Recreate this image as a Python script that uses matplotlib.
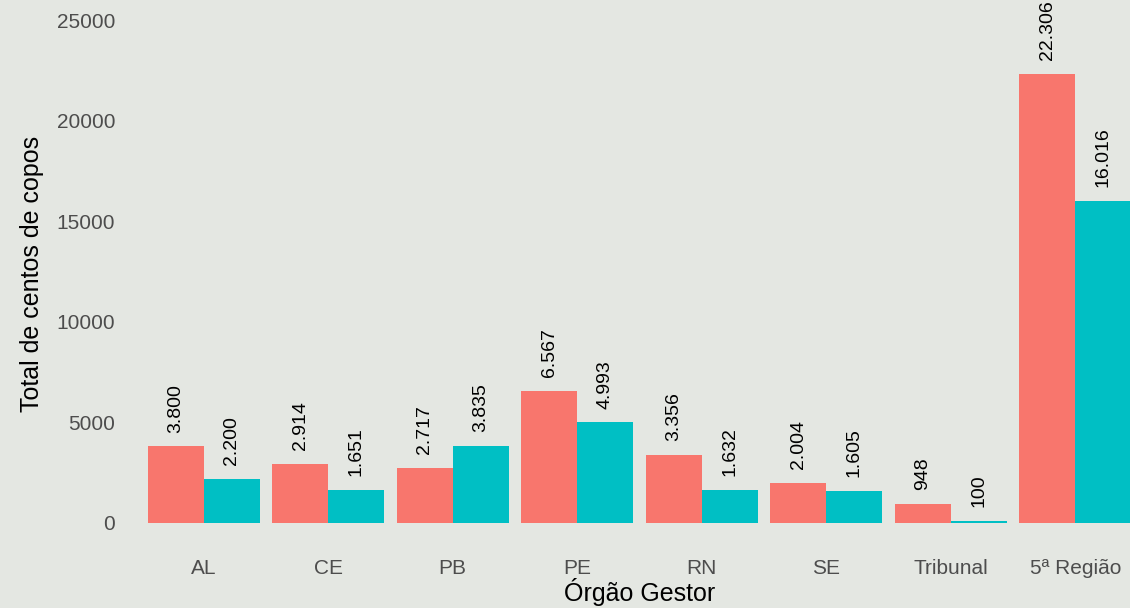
import matplotlib
matplotlib.use("Agg")
import matplotlib.pyplot as plt
import numpy as np

plt.rcParams["font.family"] = ["Liberation Sans", "DejaVu Sans"]

orgaos = ["AL", "CE", "PB", "PE", "RN", "SE", "Tribunal", "5ª Região"]
serie_a = [3800, 2914, 2717, 6567, 3356, 2004, 948, 22306]
serie_b = [2200, 1651, 3835, 4993, 1632, 1605, 100, 16016]
y_ticks = [0, 5000, 10000, 15000, 20000, 25000]

COR_A = "#F8766D"
COR_B = "#00BFC4"
FUNDO = "#e4e7e2"


def _fmt(v):
    return f"{v:,}".replace(",", ".")


fig = plt.figure(figsize=(11.3, 6.08), dpi=100, facecolor=FUNDO)
ax = fig.add_axes([129 / 1130, 60 / 608, 1021 / 1130, 548 / 608])
ax.set_facecolor(FUNDO)

x = np.arange(1, len(orgaos) + 1)
w = 0.45
bars_a = ax.bar(x - w / 2, serie_a, width=w, color=COR_A, edgecolor="none")
bars_b = ax.bar(x + w / 2, serie_b, width=w, color=COR_B, edgecolor="none")

for bars, vals in ((bars_a, serie_a), (bars_b, serie_b)):
    for b, v in zip(bars, vals):
        ax.annotate(_fmt(v), (b.get_x() + b.get_width() / 2, v),
                    xytext=(0, 10), textcoords="offset points",
                    rotation=90, ha="center", va="bottom",
                    fontsize=14, color="black")

ax.set_xlim(0.4, 8.6)
ax.set_ylim(-1250, 26000)
ax.set_xticks(x)
ax.set_xticklabels(orgaos)
ax.set_yticks(y_ticks)
ax.set_yticklabels([str(t) for t in y_ticks])
ax.tick_params(axis="both", length=0, labelsize=15, colors="#4d4d4d")
ax.tick_params(axis="y", pad=10)
ax.tick_params(axis="x", pad=8)
for s in ax.spines.values():
    s.set_visible(False)

ax.set_xlabel("Órgão Gestor", fontsize=18, color="black", labelpad=0)
ax.set_ylabel("Total de centos de copos", fontsize=18, color="black", labelpad=9)

fig.savefig("out.png", dpi=100, facecolor=FUNDO)
